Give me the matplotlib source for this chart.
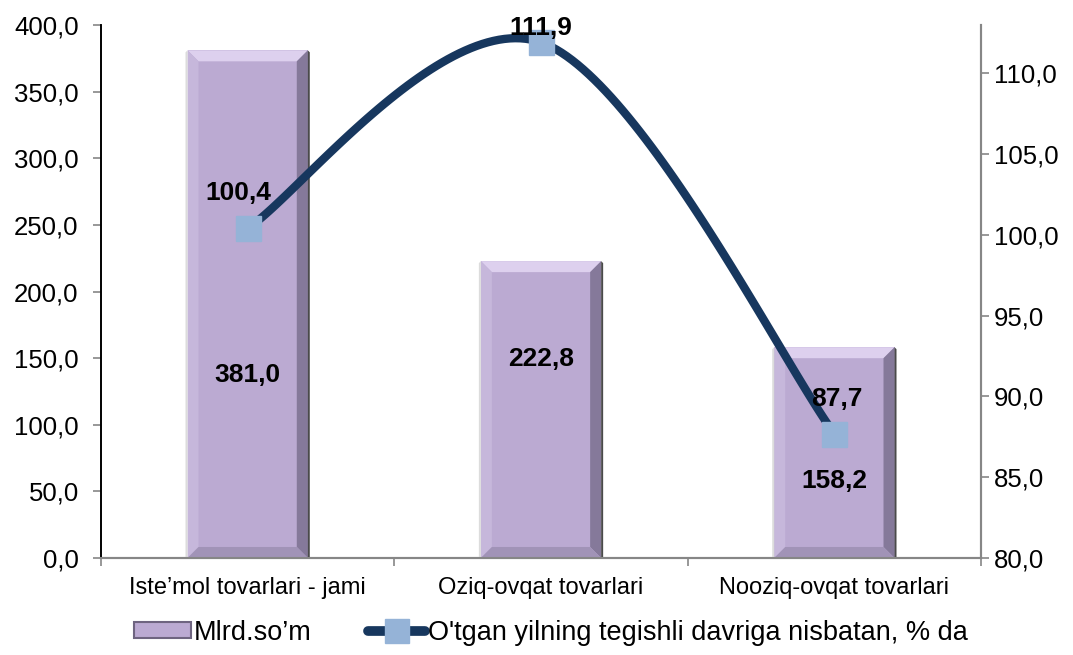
import matplotlib.pyplot as plt
import numpy as np
from matplotlib.patches import Polygon
from matplotlib.lines import Line2D
from matplotlib.patches import Patch

plt.rcParams['font.family'] = ['Liberation Sans', 'DejaVu Sans']

categories = ["Iste\u2019mol tovarlari - jami", "Oziq-ovqat tovarlari", "Nooziq-ovqat tovarlari"]
mlrd_som = [381.0, 222.8, 158.2]
nisbatan = [100.4, 111.9, 87.7]
bar_label_y = [137, 149, 58]          # where the bar values are written (left axis units)
left_ticks = np.arange(0, 401, 50)
right_ticks = np.arange(80, 111, 5)

bar_name = "Mlrd.so\u2019m"
line_name = "O'tgan yilning tegishli davriga nisbatan, % da"

bar_face = '#bbaad2'
line_col = '#17375e'
marker_col = '#95b3d7'


def fmt(v):
    return f"{v:.1f}".replace('.', ',')


fig = plt.figure(figsize=(10.73, 6.55), dpi=100)
ax = fig.add_axes([0.0941, 0.1481, 0.8202, 0.8137])
ax2 = ax.twinx()

x = np.arange(len(categories))
bars = ax.bar(x, mlrd_som, width=0.41, color=bar_face, zorder=2)

ax.set_xlim(-0.5, len(categories) - 0.5)
ax.set_ylim(0, 400)
ax2.set_ylim(80, 112.97)

# bevel look for bars
px_x = 1.0 / (0.8202 * 1073) * 3      # data units per pixel (x)
px_y = 400.0 / (0.8137 * 655)         # data units per pixel (left y)
bw = 11
for b in bars:
    x0, w, h = b.get_x(), b.get_width(), b.get_height()
    x1 = x0 + w
    dx, dy = bw * px_x, bw * px_y
    ax.add_patch(Polygon([(x0, h), (x1, h), (x1 - dx, h - dy), (x0 + dx, h - dy)],
                         closed=True, color='#ddd0ee', lw=0, zorder=3))
    ax.add_patch(Polygon([(x1, h), (x1, 0), (x1 - dx, dy), (x1 - dx, h - dy)],
                         closed=True, color='#85799a', lw=0, zorder=3))
    ax.add_patch(Polygon([(x0, h), (x0, 0), (x0 + dx, dy), (x0 + dx, h - dy)],
                         closed=True, color='#c6b7db', lw=0, zorder=3))
    ax.add_patch(Polygon([(x0, 0), (x1, 0), (x1 - dx, dy), (x0 + dx, dy)],
                         closed=True, color='#a193b7', lw=0, zorder=3))
    ax.add_patch(Polygon([(x1, h), (x1 + 2 * px_x, h - 2 * px_y), (x1 + 2 * px_x, 0), (x1, 0)],
                         closed=True, color='#4a4a4a', lw=0, zorder=3))
    ax.add_patch(Polygon([(x0, h), (x0 - 2 * px_x, h - 2 * px_y), (x0 - 2 * px_x, 0), (x0, 0)],
                         closed=True, color='#dcdcdc', lw=0, zorder=3))

for xi, v, ly in zip(x, mlrd_som, bar_label_y):
    ax.text(xi, ly, fmt(v), ha='center', va='center', fontsize=19,
            fontweight='bold', zorder=6)

# smoothed line (Catmull-Rom in display space, like Excel)
pts = ax2.transData.transform(np.column_stack([x, nisbatan]))
ext = np.vstack([pts[0], pts, pts[-1]])
curve = []
t = np.linspace(0, 1, 60)[:, None]
for i in range(len(pts) - 1):
    p0, p3 = ext[i + 1], ext[i + 2]
    c1 = p0 + (ext[i + 2] - ext[i]) / 6
    c2 = p3 - (ext[i + 3] - ext[i + 1]) / 6
    seg = (1 - t) ** 3 * p0 + 3 * (1 - t) ** 2 * t * c1 + 3 * (1 - t) * t ** 2 * c2 + t ** 3 * p3
    curve.append(seg)
curve = ax2.transData.inverted().transform(np.vstack(curve))
ax2.plot(curve[:, 0], curve[:, 1], color=line_col, lw=6, solid_capstyle='butt', zorder=4)
ax2.plot(x, nisbatan, ls='none', marker='s', ms=18, mfc=marker_col, mec=marker_col, zorder=5)

line_offsets = [(-9, 35), (0, 14), (2, 35)]
for xi, v, off in zip(x, nisbatan, line_offsets):
    ax2.annotate(fmt(v), (xi, v), xytext=off, textcoords='offset pixels',
                 ha='center', va='center', fontsize=19, fontweight='bold', zorder=6)

ax.set_yticks(left_ticks)
ax.set_yticklabels([fmt(v) for v in left_ticks], fontsize=18.5)
ax2.set_yticks(right_ticks)
ax2.set_yticklabels([fmt(v) for v in right_ticks], fontsize=18.5)

ax.set_xticks(x)
ax.set_xticklabels(categories, fontsize=17)
ax.set_xticks(np.arange(-0.5, len(categories)), minor=True)
ax.tick_params(axis='x', which='major', length=0, pad=14)
ax.tick_params(axis='x', which='minor', length=6, color='#868686', width=1.2)
ax.tick_params(axis='y', length=6, color='#868686', width=1.2, pad=10)
ax2.tick_params(axis='y', length=6, color='#868686', width=1.2, pad=3)

for a in (ax, ax2):
    a.spines['top'].set_visible(False)
    a.spines['bottom'].set_color('#868686')
    a.spines['bottom'].set_linewidth(1.5)
    a.spines['right'].set_color('#868686')
    a.spines['right'].set_linewidth(1.5)
    a.spines['left'].set_color('black')
    a.spines['left'].set_linewidth(1.2)

handles = [
    Patch(facecolor=bar_face, edgecolor='#6e6480', linewidth=1.5),
    Line2D([0], [0], color=line_col, lw=7, marker='s', ms=17,
           mfc=marker_col, mec=marker_col, solid_capstyle='round'),
]
fig.legend(handles, [bar_name, line_name], loc='center', ncol=2,
           bbox_to_anchor=(0.5135, 0.034), frameon=False, fontsize=19.5,
           handlelength=2.1, handleheight=0.55, handletextpad=0.1,
           columnspacing=2.1)

fig.savefig('out.png', dpi=100)
